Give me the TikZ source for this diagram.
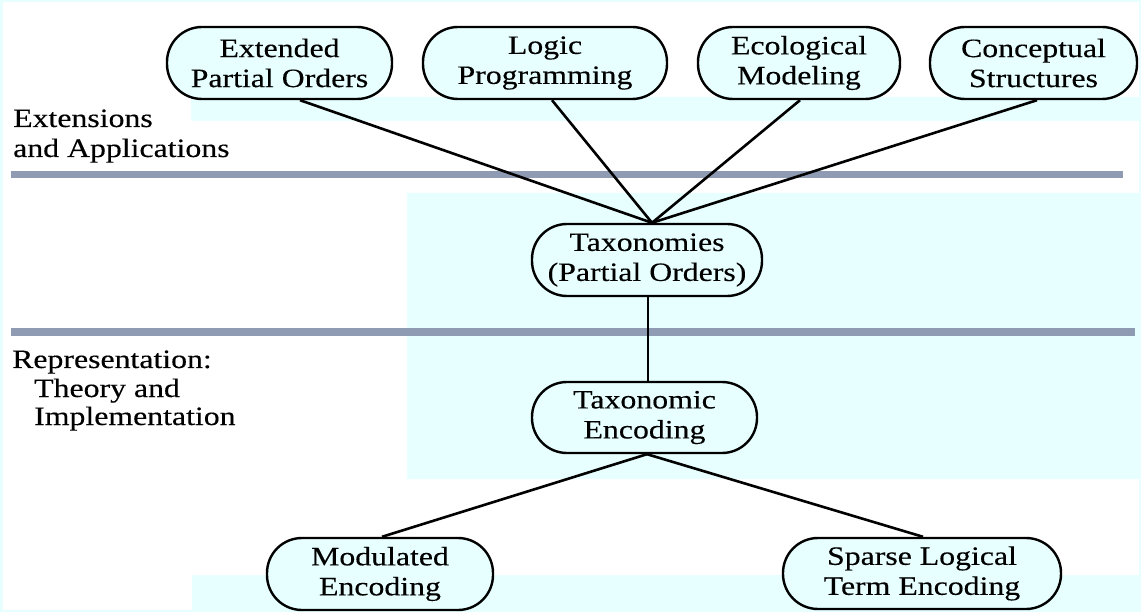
\documentclass[tikz,border=0pt]{standalone}
\usepackage{fontspec}
\setmainfont{Liberation Serif}[FakeStretch=1.2, FakeBold=0.3]
\definecolor{cyanbg}{RGB}{232,255,255}
\definecolor{barcol}{RGB}{143,155,179}
\tikzset{
  nodebox/.style={draw=black, line width=2.4pt, fill=cyanbg, rounded corners=35pt,
    minimum height=72pt, inner sep=0pt, align=center,
    font=\fontsize{26.5pt}{30pt}\selectfont},
  lbl/.style={anchor=base west, inner sep=0pt, font=\fontsize{26.5pt}{30pt}\selectfont},
  conn/.style={draw=black, line width=2.6pt},
  band/.style={fill=cyanbg, draw=none},
  bar/.style={fill=barcol, draw=none}
}
\begin{document}
\begin{tikzpicture}[x=1pt, y=-1pt]
\useasboundingbox (0,0) rectangle (1141,612);
\fill[white] (0,0) rectangle (1141,612);
\draw[cyanbg, line width=2.5pt] (1.25,1.25) rectangle (1139.75,610.75);
% bands
\path[band] (191,97) rectangle (1141,121);
\path[band] (407,193) rectangle (1141,479);
\path[band] (192,575) rectangle (1141,610);
% bars
\path[bar] (11,171) rectangle (1123,178);
\path[bar] (11,328) rectangle (1135,336);
% left labels
\node[lbl] (l1) at (13,127) {Extensions};
\node[lbl] (l2) at (13,157) {and Applications};
\node[lbl] (l3) at (12,368) {Representation:};
\node[lbl] (l4) at (34,397) {Theory and};
\node[lbl] (l5) at (34,425) {Implementation};
% nodes
\node[nodebox, minimum width=225pt] (ext) at (279.5,63) {Extended\\Partial Orders};
\node[nodebox, minimum width=244pt] (logic) at (545,63) {Logic\\Programming};
\node[nodebox, minimum width=202pt] (eco) at (799,63) {Ecological\\Modeling};
\node[nodebox, minimum width=207pt] (conc) at (1033.5,63) {Conceptual\\Structures};
\node[nodebox, minimum width=230pt] (tax) at (647,260) {Taxonomies\\(Partial Orders)};
\node[nodebox, minimum width=225pt, minimum height=71pt] (enc) at (644.5,417.5) {Taxonomic\\Encoding};
\node[nodebox, minimum width=226pt] (mod) at (380,574) {Modulated\\Encoding};
\node[nodebox, minimum width=278pt, minimum height=71pt] (sparse) at (922,573.5) {Sparse Logical\\Term Encoding};
% connectors
\coordinate (taxtop) at ([xshift=5pt]tax.north);
\draw[conn] ([xshift=20.5pt]ext.south) -- (taxtop);
\draw[conn] ([xshift=7pt]logic.south) -- (taxtop);
\draw[conn] ([xshift=1pt]eco.south) -- (taxtop);
\draw[conn] ([xshift=3.5pt]conc.south) -- (taxtop);
\draw[conn] ([xshift=1pt]tax.south) -- ([xshift=3.5pt]enc.north);
\draw[conn] ([xshift=2.5pt]enc.south) -- ([xshift=2pt]mod.north);
\draw[conn] ([xshift=2.5pt]enc.south) -- ([xshift=1pt]sparse.north);
\end{tikzpicture}
\end{document}
